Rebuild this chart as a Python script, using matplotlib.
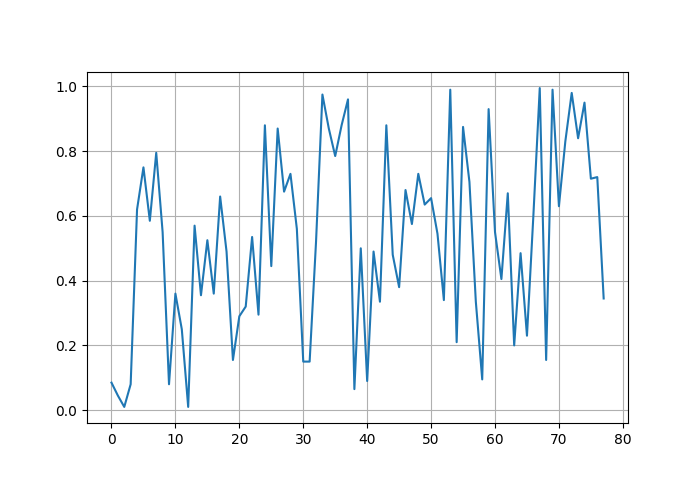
import matplotlib
matplotlib.use("Agg")
import matplotlib.pyplot as plt

values = [0.085,0.045,0.01,0.08,0.62,0.75,0.585,0.795,0.55,0.08,
          0.36,0.25,0.01,0.57,0.355,0.525,0.36,0.66,0.49,0.155,
          0.29,0.32,0.535,0.295,0.88,0.445,0.87,0.675,0.73,0.56,
          0.15,0.15,0.52,0.975,0.87,0.785,0.88,0.96,0.065,0.5,
          0.09,0.49,0.335,0.88,0.48,0.38,0.68,0.575,0.73,0.635,
          0.655,0.545,0.34,0.99,0.21,0.875,0.705,0.335,0.095,0.93,
          0.55,0.405,0.67,0.2,0.485,0.23,0.6,0.995,0.155,0.99,
          0.63,0.83,0.98,0.84,0.95,0.715,0.72,0.345]
x = list(range(len(values)))

fig, ax = plt.subplots(figsize=(6.95, 4.94), dpi=100)
fig.subplots_adjust(left=0.125, right=0.904, top=0.854, bottom=0.144)
ax.plot(x, values, color="#1f77b4")
ax.grid(True)
fig.savefig("out.png", dpi=100)
